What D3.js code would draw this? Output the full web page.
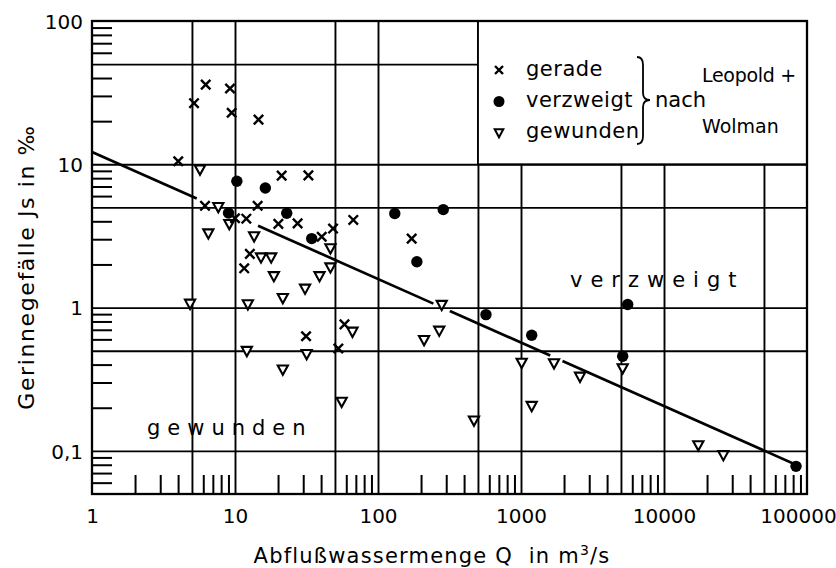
<!DOCTYPE html>
<html><head><meta charset="utf-8">
<script src="https://cdn.jsdelivr.net/npm/d3@7"></script>
<style>body{margin:0;background:#fff}svg{display:block}</style>
</head><body><svg id="c" width="836" height="568"></svg>
<script>
// ---- data ----
const xTickValues = [1, 10, 100, 1000, 10000, 100000];
const xTickLabels = ["1", "10", "100", "1000", "10000", "100000"];
const yTickValues = [100, 10, 1, 0.1];
const yTickLabels = ["100", "10", "1", "0,1"];
const xGridValues = [5, 10, 50, 100, 500, 1000, 5000, 10000, 50000];
const yGridValues = [50, 10, 5, 1, 0.5, 0.1];
const minorMultipliers = [2, 3, 4, 6, 7, 8, 9];

// gerade (x)
const geradeQ = [5.17, 6.24, 9.23, 9.48, 14.6, 4.01, 6.17, 14.4, 21.2, 32.6, 10.0, 12.0, 20.1, 27.4, 40.4, 48.5, 67.2, 172, 12.7, 11.6, 58.3, 31.4, 52.8];
const geradeJ = [26.7, 36.0, 33.8, 22.9, 20.5, 10.5, 5.13, 5.13, 8.34, 8.37, 4.2, 4.17, 3.84, 3.87, 3.12, 3.56, 4.09, 3.03, 2.37, 1.88, 0.764, 0.631, 0.518];
// verzweigt (filled circle)
const verzweigtQ = [10.3, 16.3, 9.01, 23.0, 34.4, 131, 286, 187, 569, 1188, 5573, 5142, 83800];
const verzweigtJ = [7.61, 6.83, 4.57, 4.55, 3.03, 4.53, 4.83, 2.09, 0.893, 0.641, 1.05, 0.457, 0.078];
// gewunden (open triangle down)
const gewundenQ = [5.69, 7.64, 6.51, 9.12, 13.6, 15.2, 17.9, 18.7, 21.6, 30.9, 39.0, 46.5, 46.5, 4.85, 12.3, 12.1, 31.7, 21.6, 66.3, 55.7, 210, 268, 279, 469, 1011, 1188, 1702, 2586, 5142, 17380, 26000];
const gewundenJ = [9.15, 5.01, 3.28, 3.81, 3.13, 2.23, 2.23, 1.65, 1.16, 1.35, 1.65, 1.90, 2.58, 1.06, 1.05, 0.496, 0.472, 0.368, 0.676, 0.219, 0.591, 0.687, 1.04, 0.162, 0.410, 0.205, 0.407, 0.328, 0.375, 0.109, 0.093];

// fitted line (straight in log-log), drawn with breaks
const fitQ = [1, 90000];
const fitJ = [12.2, 0.0775];
const fitSegmentsQ = [[1, 5.4], [14.5, 244], [318, 1600], [1950, 90000]];

// ---- layout ----
const svg = d3.select("#c");
const L = 92, R = 807, T = 21, B = 494;
const x = d3.scaleLog().domain([1, 100000]).range([L, R]);
const y = d3.scaleLog().domain([0.05, 100]).range([B, T]);
const FONT = "'DejaVu Sans', sans-serif";

svg.append("rect").attr("width", 836).attr("height", 568).attr("fill", "#fff");

// minor ticks
const xMinor = [];
for (let d = 1; d < 100000; d *= 10) minorMultipliers.forEach(m => xMinor.push(m * d));
const yMinor = [];
for (let d = 0.01; d < 100; d *= 10) minorMultipliers.forEach(m => { const v = +(m * d).toPrecision(3); if (v > 0.05 && v < 100) yMinor.push(v); });

const gMinX = svg.append("g").attr("transform", `translate(0,${B})`)
  .call(d3.axisBottom(x).tickValues(xMinor).tickSize(-19).tickFormat(""));
const gMinY = svg.append("g").attr("transform", `translate(${L},0)`)
  .call(d3.axisLeft(y).tickValues(yMinor).tickSize(-20).tickFormat(""));
[gMinX, gMinY].forEach(g => { g.select(".domain").remove(); g.selectAll("line").attr("stroke", "#000").attr("stroke-width", 2); });

// grid
const gGX = svg.append("g").attr("transform", `translate(0,${B})`)
  .call(d3.axisBottom(x).tickValues(xGridValues).tickSize(-(B - T)).tickFormat(""));
const gGY = svg.append("g").attr("transform", `translate(${L},0)`)
  .call(d3.axisLeft(y).tickValues(yGridValues).tickSize(-(R - L)).tickFormat(""));
[gGX, gGY].forEach(g => { g.select(".domain").remove(); g.selectAll("line").attr("stroke", "#000").attr("stroke-width", 1.9); });

// legend box (covers grid)
svg.append("rect")
  .attr("x", x(500)).attr("y", y(100))
  .attr("width", x(100000) - x(500)).attr("height", y(10) - y(100))
  .attr("fill", "#fff").attr("stroke", "#000").attr("stroke-width", 1.9);

// frame
svg.append("rect").attr("x", L).attr("y", T).attr("width", R - L).attr("height", B - T)
  .attr("fill", "none").attr("stroke", "#000").attr("stroke-width", 2.3);

// tick labels
const gXL = svg.append("g").attr("transform", `translate(0,${B})`)
  .call(d3.axisBottom(x).tickValues(xTickValues).tickSize(0).tickPadding(0)
    .tickFormat((d, i) => xTickLabels[i]));
gXL.select(".domain").remove();
gXL.selectAll("text").attr("font-family", FONT).attr("font-size", 20).attr("fill", "#000")
  .attr("dy", null).attr("y", 29)
  .attr("dx", (d, i) => i === xTickLabels.length - 1 ? -9 : 0);
const gYL = svg.append("g").attr("transform", `translate(${L},0)`)
  .call(d3.axisLeft(y).tickValues(yTickValues).tickSize(0).tickPadding(9)
    .tickFormat((d, i) => yTickLabels[i]));
gYL.select(".domain").remove();
gYL.selectAll("text").attr("font-family", FONT).attr("font-size", 20).attr("fill", "#000")
  .attr("dy", "0.36em");

// axis titles
const xt = svg.append("text").attr("x", 432).attr("y", 563).attr("text-anchor", "middle")
  .attr("font-family", FONT).attr("font-size", 21).attr("letter-spacing", 1.2).attr("fill", "#000");
xt.append("tspan").text("Abflußwassermenge Q\u00a0\u00a0in m");
xt.append("tspan").attr("font-size", 14).attr("dy", -8).text("3");
xt.append("tspan").attr("dy", 8).text("/s");
svg.append("text").attr("transform", "translate(34,267) rotate(-90)").attr("text-anchor", "middle")
  .attr("font-family", FONT).attr("font-size", 22).attr("letter-spacing", 1.6).attr("fill", "#000")
  .text("Gerinnegefälle Js in ‰");

// fitted line
const b = Math.log(fitJ[0] / fitJ[1]) / Math.log(fitQ[1] / fitQ[0]);
const fitAt = q => fitJ[0] * Math.pow(q / fitQ[0], -b);
const lineGen = d3.line().x(d => x(d)).y(d => y(fitAt(d)));
svg.append("g").selectAll("path").data(fitSegmentsQ).join("path")
  .attr("d", d => lineGen(d)).attr("fill", "none").attr("stroke", "#000").attr("stroke-width", 2.7);

// markers
const crossPath = "M-4.7,-4.7L4.7,4.7M-4.7,4.7L4.7,-4.7";
const triPath = "M-5.1,-4.3L5.1,-4.3L0,5Z";
const gerade = geradeQ.map((q, i) => [q, geradeJ[i]]);
const verzweigt = verzweigtQ.map((q, i) => [q, verzweigtJ[i]]);
const gewunden = gewundenQ.map((q, i) => [q, gewundenJ[i]]);

svg.append("g").selectAll("path").data(gewunden).join("path")
  .attr("transform", d => `translate(${x(d[0])},${y(d[1])})`)
  .attr("d", triPath).attr("fill", "#fff").attr("stroke", "#000").attr("stroke-width", 2.1);
svg.append("g").selectAll("path").data(gerade).join("path")
  .attr("transform", d => `translate(${x(d[0])},${y(d[1])})`)
  .attr("d", crossPath).attr("fill", "none").attr("stroke", "#000").attr("stroke-width", 2.4);
svg.append("g").selectAll("circle").data(verzweigt).join("circle")
  .attr("cx", d => x(d[0])).attr("cy", d => y(d[1])).attr("r", 5.7).attr("fill", "#000");

// legend
const leg = svg.append("g");
leg.append("path").attr("transform", "translate(499,70)").attr("d", "M-4,-4L4,4M-4,4L4,-4")
  .attr("fill", "none").attr("stroke", "#000").attr("stroke-width", 2.4);
leg.append("circle").attr("cx", 499).attr("cy", 101.5).attr("r", 5.5).attr("fill", "#000");
leg.append("path").attr("transform", "translate(499,133)").attr("d", "M-4.3,-3.8L4.3,-3.8L0,4.3Z")
  .attr("fill", "#fff").attr("stroke", "#000").attr("stroke-width", 2);
const legText = [["gerade", 76], ["verzweigt", 107], ["gewunden", 138]];
leg.selectAll("text.l").data(legText).join("text").attr("class", "l")
  .attr("x", 526).attr("y", d => d[1]).text(d => d[0])
  .attr("font-family", FONT).attr("font-size", 21).attr("letter-spacing", 0.5).attr("fill", "#000");
leg.append("path")
  .attr("d", "M637,57 Q643,57 643,65 L643,93 Q643,100 650,100 Q643,100 643,107 L643,136 Q643,144 637,144")
  .attr("fill", "none").attr("stroke", "#000").attr("stroke-width", 1.8);
leg.append("text").attr("x", 655).attr("y", 107).text("nach")
  .attr("font-family", FONT).attr("font-size", 21).attr("fill", "#000");
leg.append("text").attr("x", 702).attr("y", 82).text("Leopold +")
  .attr("font-family", FONT).attr("font-size", 19).attr("letter-spacing", -0.3).attr("fill", "#000");
leg.append("text").attr("x", 702).attr("y", 133).text("Wolman")
  .attr("font-family", FONT).attr("font-size", 19).attr("fill", "#000");

// region annotations
svg.append("text").attr("x", 147).attr("y", 435).text("gewunden")
  .attr("font-family", FONT).attr("font-size", 21).attr("letter-spacing", 7).attr("fill", "#000");
svg.append("text").attr("x", 570).attr("y", 287).text("verzweigt")
  .attr("font-family", FONT).attr("font-size", 21).attr("letter-spacing", 8).attr("fill", "#000");
</script>
</body></html>
